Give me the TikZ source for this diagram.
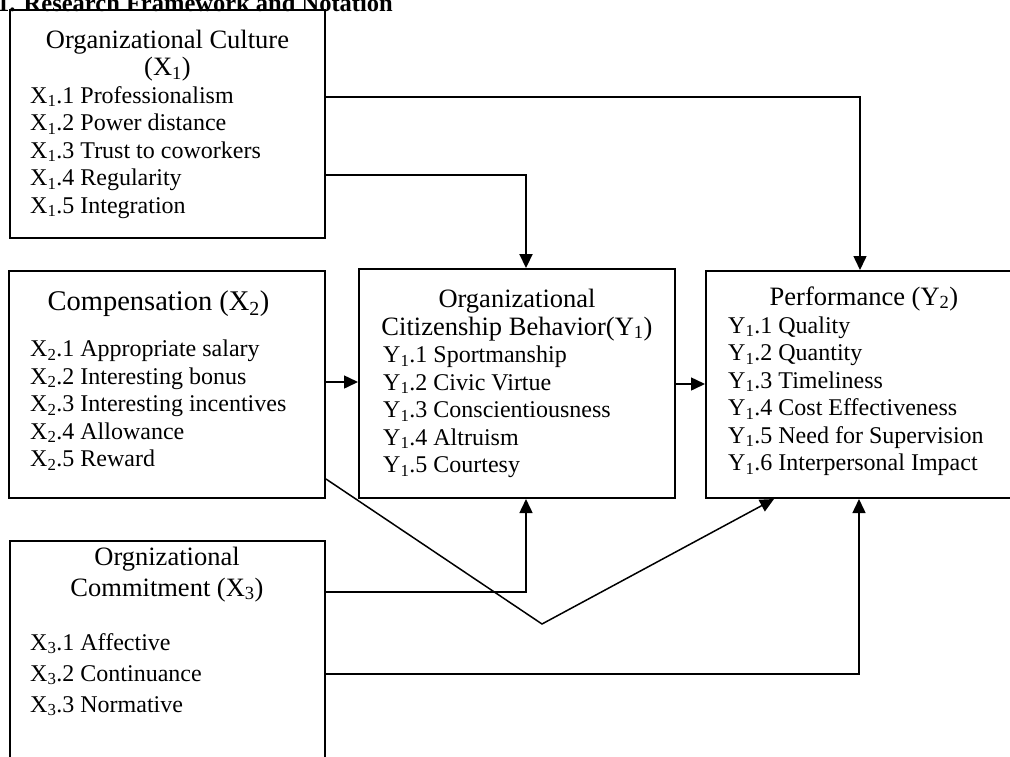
\documentclass[tikz,border=0pt]{standalone}
\usepackage{fontspec}
\setmainfont{Liberation Serif}
\usetikzlibrary{arrows.meta}
\begin{document}
\begin{tikzpicture}[x=1pt,y=-1pt,
  box/.style={draw, line width=2pt, rectangle, inner sep=0pt},
  txt/.style={font=\fontsize{24}{27.5}\selectfont, inner sep=0pt, anchor=base west},
  hdr/.style={font=\fontsize{26.5}{30}\selectfont, inner sep=0pt, anchor=base},
  conn/.style={line width=1.5pt, line join=miter, -{Triangle[length=14pt,width=13pt]}},
  thickconn/.style={conn, line width=2.2pt}]
\useasboundingbox (0,0) rectangle (1010,756);

% title (cut at top)
\node[font=\bfseries\fontsize{24.5}{28}\selectfont, inner sep=0pt, anchor=base west] (title) at (-3,11) {1. Research Framework and Notation};

% boxes
\node[box, minimum width=315pt, minimum height=228pt] (x1) at (167.5,124) {};
\node[box, minimum width=316pt, minimum height=227pt] (x2) at (167,384.5) {};
\node[box, minimum width=315pt, minimum height=259pt] (x3) at (167.5,670.5) {};
\node[box, minimum width=316pt, minimum height=229pt] (y1) at (517,383.5) {};
\node[box, minimum width=334pt, minimum height=227pt] (y2) at (873,384.5) {};

% X1 text
\node[hdr] (x1h1) at (167.5,48) {Organizational Culture};
\node[hdr] (x1h2) at (167.5,75.5) {(X\textsubscript{1})};
\node[txt] (x1i1) at (30,103) {X\textsubscript{1}.1 Professionalism};
\node[txt] (x1i2) at (30,130.5) {X\textsubscript{1}.2 Power distance};
\node[txt] (x1i3) at (30,158) {X\textsubscript{1}.3 Trust to coworkers};
\node[txt] (x1i4) at (30,185.5) {X\textsubscript{1}.4 Regularity};
\node[txt] (x1i5) at (30,213) {X\textsubscript{1}.5 Integration};

% X2 text
\node[hdr, font=\fontsize{28.5}{32}\selectfont] (x2h1) at (158.5,310.5) {Compensation (X\textsubscript{2})};
\node[txt] (x2i1) at (30,356.5) {X\textsubscript{2}.1 Appropriate salary};
\node[txt] (x2i2) at (30,384) {X\textsubscript{2}.2 Interesting bonus};
\node[txt] (x2i3) at (30,411.5) {X\textsubscript{2}.3 Interesting incentives};
\node[txt] (x2i4) at (30,439) {X\textsubscript{2}.4 Allowance};
\node[txt] (x2i5) at (30,466.5) {X\textsubscript{2}.5 Reward};

% X3 text
\node[hdr] (x3h1) at (167,565) {Orgnizational};
\node[hdr] (x3h2) at (167,596) {Commitment (X\textsubscript{3})};
\node[txt] (x3i1) at (30,650) {X\textsubscript{3}.1 Affective};
\node[txt] (x3i2) at (30,681) {X\textsubscript{3}.2 Continuance};
\node[txt] (x3i3) at (30,712) {X\textsubscript{3}.3 Normative};

% Y1 text
\node[hdr] (y1h1) at (517,307.5) {Organizational};
\node[hdr] (y1h2) at (517,335) {Citizenship Behavior(Y\textsubscript{1})};
\node[txt] (y1i1) at (383,362.5) {Y\textsubscript{1}.1 Sportmanship};
\node[txt] (y1i2) at (383,390) {Y\textsubscript{1}.2 Civic Virtue};
\node[txt] (y1i3) at (383,417.5) {Y\textsubscript{1}.3 Conscientiousness};
\node[txt] (y1i4) at (383,445) {Y\textsubscript{1}.4 Altruism};
\node[txt] (y1i5) at (383,472.5) {Y\textsubscript{1}.5 Courtesy};

% Y2 text
\node[hdr] (y2h1) at (864,305) {Performance (Y\textsubscript{2})};
\node[txt] (y2i1) at (728,333) {Y\textsubscript{1}.1 Quality};
\node[txt] (y2i2) at (728,360.5) {Y\textsubscript{1}.2 Quantity};
\node[txt] (y2i3) at (728,388) {Y\textsubscript{1}.3 Timeliness};
\node[txt] (y2i4) at (728,415.5) {Y\textsubscript{1}.4 Cost Effectiveness};
\node[txt] (y2i5) at (728,443) {Y\textsubscript{1}.5 Need for Supervision};
\node[txt] (y2i6) at (728,470.5) {Y\textsubscript{1}.6 Interpersonal Impact};

% connectors
\coordinate (v) at (542,624);
\draw[conn] (x1.east |- 0,97) -| ([xshift=-13pt]y2.north);
\draw[thickconn] (x1.east |- 0,175) -| ([xshift=9pt]y1.north);
\draw[conn] (x2.east |- 0,382) -- (y1.west |- 0,382);
\draw[conn] (y1.east |- 0,384) -- (y2.west |- 0,384);
\draw[conn] (x2.east |- 0,479) -- (v) -- ([xshift=-99pt]y2.south);
\draw[conn] (x3.east |- 0,592) -| ([xshift=9pt]y1.south);
\draw[conn] (x3.east |- 0,674) -| ([xshift=-14pt]y2.south);
\end{tikzpicture}
\end{document}
